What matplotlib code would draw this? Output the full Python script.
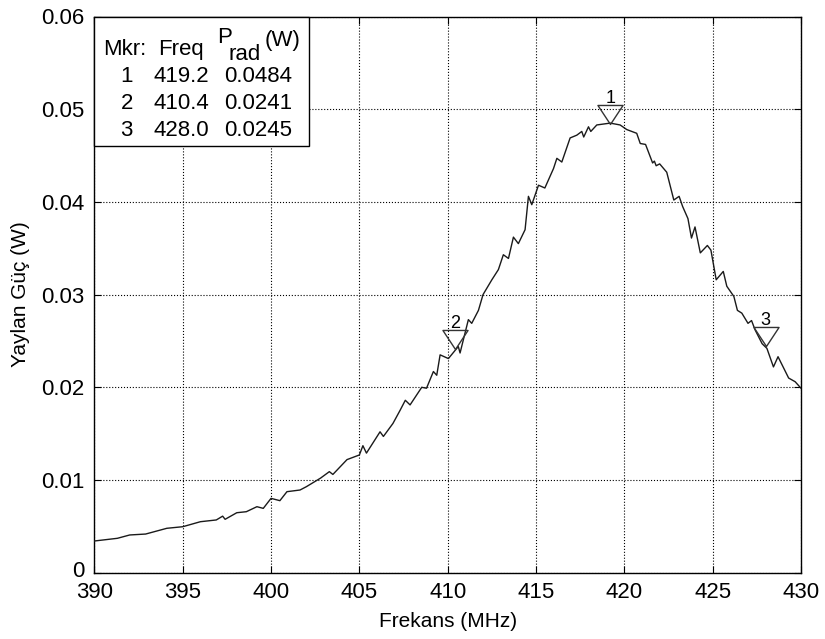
import matplotlib
matplotlib.use("Agg")
import matplotlib.pyplot as plt
from matplotlib.patches import Rectangle
from matplotlib.path import Path
from matplotlib.transforms import ScaledTranslation

plt.rcParams['font.family'] = ['Liberation Sans', 'DejaVu Sans']

# values
freq_mhz = [390.0, 391.3, 392.0, 392.9, 394.1, 395.0, 396.0, 396.9, 397.26, 397.4,
            398.06, 398.6, 399.2, 399.56, 400.0, 400.5, 400.9, 401.64, 402.0, 402.8,
            403.3, 403.5, 404.3, 405.0, 405.2, 405.4, 406.17, 406.36, 406.9, 407.3,
            407.6, 407.87, 408.53, 408.8, 409.19, 409.38, 409.57, 410.04, 410.6, 410.7,
            411.17, 411.36, 411.74, 412.0, 412.5, 412.87, 413.15, 413.44, 413.72, 414.0,
            414.38, 414.57, 414.76, 415.14, 415.5, 415.99, 416.18, 416.46, 416.93, 417.31,
            417.59, 417.7, 417.97, 418.1, 418.44, 419.2, 419.76, 420.14, 420.7, 420.9,
            421.2, 421.6, 421.7, 421.8, 422.0, 422.4, 422.8, 423.1, 423.3, 423.6,
            423.8, 424.0, 424.3, 424.7, 424.9, 425.2, 425.6, 425.8, 426.2, 426.4,
            426.65, 427.0, 427.2, 427.4, 427.8, 428.07, 428.44, 428.7, 429.3, 429.67,
            430.0]
power_w = [0.00342, 0.00371, 0.00407, 0.00417, 0.00479, 0.00496, 0.00550, 0.00569, 0.00610, 0.00576,
           0.00647, 0.00658, 0.00712, 0.00694, 0.00802, 0.00777, 0.00874, 0.00892, 0.00928, 0.0102,
           0.0109, 0.0106, 0.0122, 0.0127, 0.0137, 0.0129, 0.0152, 0.0147, 0.0161, 0.0175,
           0.0186, 0.0181, 0.0200, 0.0199, 0.0217, 0.0213, 0.0235, 0.0231, 0.0244, 0.0237,
           0.0273, 0.0269, 0.0283, 0.0300, 0.0316, 0.0327, 0.0343, 0.0339, 0.0362, 0.0355,
           0.0370, 0.0406, 0.0397, 0.0418, 0.0415, 0.0436, 0.0447, 0.0443, 0.0469, 0.0472,
           0.0476, 0.0470, 0.0481, 0.0476, 0.0483, 0.0485, 0.0483, 0.0478, 0.0474, 0.0463,
           0.0462, 0.0442, 0.0444, 0.0439, 0.0441, 0.0432, 0.0402, 0.0406, 0.0395, 0.0382,
           0.0361, 0.0373, 0.0345, 0.0353, 0.0348, 0.0316, 0.0325, 0.0309, 0.0298, 0.0283,
           0.0280, 0.0269, 0.0272, 0.0262, 0.0247, 0.0242, 0.0222, 0.0233, 0.0210, 0.0206,
           0.0199]

mkr_ids = ['1', '2', '3']
mkr_freq = [419.2, 410.4, 428.0]
mkr_power = [0.0484, 0.0241, 0.0245]

x_ticks = [390, 395, 400, 405, 410, 415, 420, 425, 430]
y_ticks = [0, 0.01, 0.02, 0.03, 0.04, 0.05, 0.06]
y_labels = ['0', '0.01', '0.02', '0.03', '0.04', '0.05', '0.06']

W, H = 825, 639
fig = plt.figure(figsize=(W / 100, H / 100), dpi=100)
ax = fig.add_axes([94.4 / W, (H - 572.7) / H, 706.6 / W, 556.2 / H])

ax.plot(freq_mhz, power_w, color='#1a1a1a', lw=1.0, zorder=3)

# down-pointing triangle with its tip on the point
tri = Path([(-0.66, 1), (0.66, 1), (0, 0), (-0.66, 1)],
           [Path.MOVETO, Path.LINETO, Path.LINETO, Path.CLOSEPOLY])
ax.plot(mkr_freq, mkr_power, linestyle='none', marker=tri, markersize=27.4,
        mfc='none', mec='#333333', mew=1.0, zorder=4)
for lbl, f, p in zip(mkr_ids, mkr_freq, mkr_power):
    ax.annotate(lbl, (f, p), xytext=(0, 15), textcoords='offset points',
                ha='center', va='baseline', fontsize=13, zorder=5)

ax.set_xlim(390, 430)
ax.set_ylim(0, 0.06)
ax.set_xticks(x_ticks)
ax.set_xticklabels([str(v) for v in x_ticks])
ax.set_yticks(y_ticks)
ax.set_yticklabels(y_labels)
ax.tick_params(direction='in', top=True, right=True, length=5, width=0.8,
               labelsize=16, pad=7)
ax.grid(True, linestyle=':', color='black', lw=0.8)
for s in ax.spines.values():
    s.set_linewidth(1.0)
ax.set_xlabel('Frekans (MHz)', fontsize=15, labelpad=6)
ax.set_ylabel('Yaylan Güç (W)', fontsize=15, labelpad=8)

# lift the "0" a little so it sits above "390" like the original
zero = ax.get_yticklabels()[0]
zero.set_transform(zero.get_transform() + ScaledTranslation(0, 3 / 72, fig.dpi_scale_trans))

# marker readout box in the upper left corner
ax.add_patch(Rectangle((0, 0.767), 0.304, 0.233, transform=ax.transAxes,
                       facecolor='white', edgecolor='black', lw=1.0, zorder=6,
                       clip_on=False))

def put(px, py, s, size=16, ha='left'):
    ax.text(px / W, 1 - py / H, s, transform=fig.transFigure, fontsize=size,
            ha=ha, va='baseline', zorder=7)

put(102.7, 55, 'Mkr:')
put(158, 55, 'Freq')
put(216.7, 43, 'P')
put(228.3, 60, 'rad')
put(265, 46, '(W)')
for i, (lbl, f, p) in enumerate(zip(mkr_ids, mkr_freq, mkr_power)):
    by = 81.7 + i * 27.2
    put(126.7, by, lbl, ha='center')
    put(153, by, '%.1f' % f)
    put(224, by, '%.4f' % p)

fig.savefig('out.png', dpi=100)
